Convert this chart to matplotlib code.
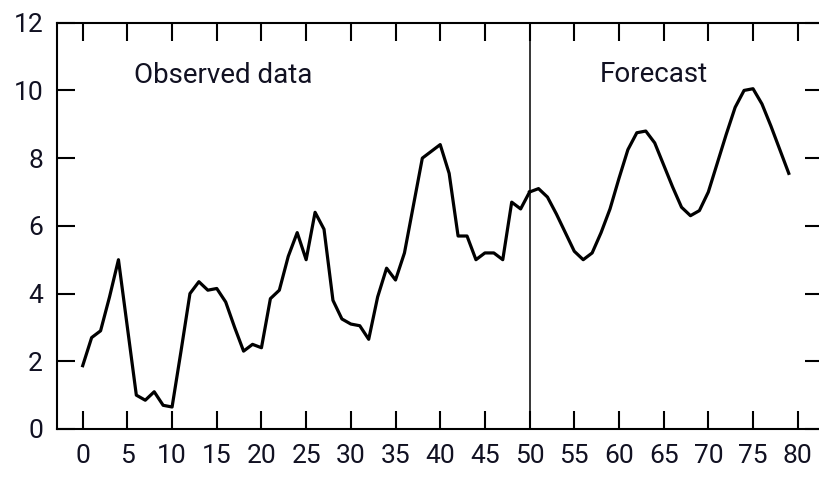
import matplotlib
matplotlib.use('Agg')
import matplotlib.pyplot as plt

plt.rcParams['font.family'] = ['Roboto', 'DejaVu Sans']

# observed series, one value per period 0..50
observed_x = list(range(0, 51))
observed_y = [1.87, 2.7, 2.9, 3.9, 5.0, 3.0, 1.0, 0.85, 1.1, 0.7,
              0.65, 2.3, 4.0, 4.35, 4.1, 4.15, 3.75, 3.0, 2.3, 2.5,
              2.4, 3.85, 4.1, 5.1, 5.8, 5.0, 6.4, 5.9, 3.8, 3.25,
              3.1, 3.05, 2.65, 3.9, 4.75, 4.4, 5.2, 6.6, 8.0, 8.2,
              8.4, 7.55, 5.7, 5.7, 5.0, 5.2, 5.2, 5.0, 6.7, 6.5,
              7.0]

# forecast, periods 50..79
forecast_x = list(range(50, 80))
forecast_y = [7.0, 7.1, 6.85, 6.35, 5.8, 5.25, 5.0, 5.2, 5.8, 6.5,
              7.4, 8.25, 8.75, 8.8, 8.45, 7.8, 7.15, 6.55, 6.3, 6.45,
              7.0, 7.85, 8.7, 9.5, 10.0, 10.05, 9.6, 8.95, 8.25, 7.55]

split_at = 50
x_ticks = list(range(0, 81, 5))
y_ticks = list(range(0, 13, 2))

fig = plt.figure(figsize=(8.19, 4.79), dpi=100)
ax = fig.add_axes([57 / 819, 50 / 479, 766 / 819, 406.3 / 479])

ax.plot(observed_x, observed_y, color='black', lw=2.3, solid_joinstyle='round')
ax.plot(forecast_x, forecast_y, color='black', lw=2.3, solid_joinstyle='round')
ax.axvline(split_at, color='black', lw=1.1)

ax.text(5.74, 10.22, 'Observed data', fontsize=20, color='#111122')
ax.text(57.9, 10.26, 'Forecast', fontsize=20, color='#111122')

ax.set_xlim(-2.876, 82.83)
ax.set_ylim(0, 12)
ax.set_xticks(x_ticks)
ax.set_yticks(y_ticks)
ax.tick_params(direction='in', length=13, width=1.5, labelsize=19,
               labelcolor='#111122', top=True, right=True)
ax.tick_params(axis='y', pad=10)
ax.tick_params(axis='x', pad=11)
for s in ax.spines.values():
    s.set_linewidth(1.5)

fig.savefig('out.png', dpi=100)
